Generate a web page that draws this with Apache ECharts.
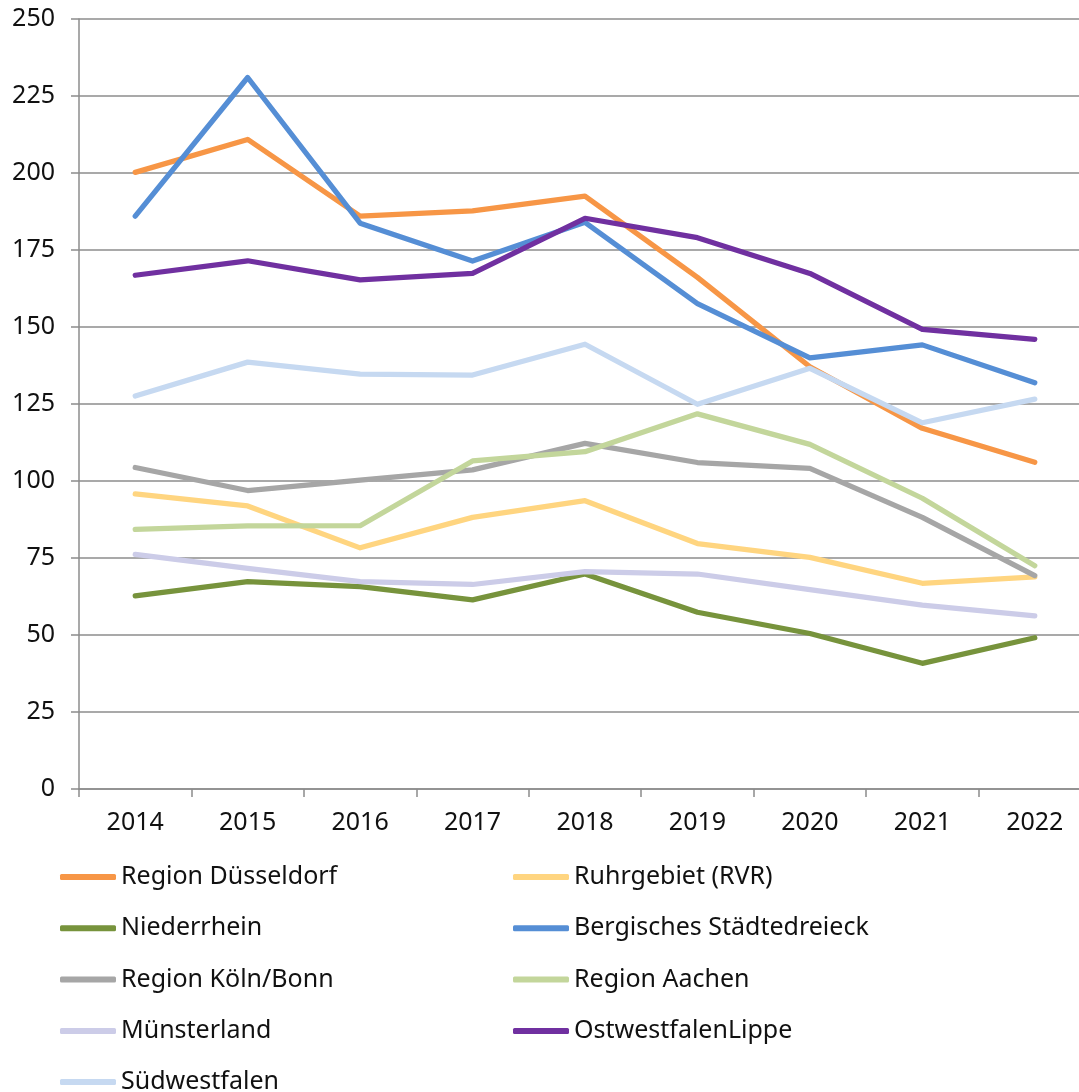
<!DOCTYPE html>
<html>
<head>
<meta charset="utf-8">
<script src="https://cdn.jsdelivr.net/npm/echarts@6/dist/echarts.min.js"></script>
<style>
html,body{margin:0;padding:0;background:#fff;overflow:hidden;width:1079px;height:1092px;}
#chart{width:1092px;height:1092px;}
</style>
</head>
<body>
<div id="chart"></div>
<script>
const years = ['2014','2015','2016','2017','2018','2019','2020','2021','2022'];
const yTicks = [0,25,50,75,100,125,150,175,200,225,250];

const duesseldorf  = [200.2, 210.9, 186.0, 187.7, 192.5, 166.1, 137.1, 117.1, 106.1];
const ruhrgebiet   = [95.8, 91.9, 78.3, 88.2, 93.6, 79.7, 75.2, 66.8, 68.9];
const niederrhein  = [62.7, 67.3, 65.7, 61.4, 69.8, 57.4, 50.5, 40.8, 49.1];
const bergisches   = [186.0, 231.0, 183.7, 171.4, 184.0, 157.6, 140.0, 144.2, 131.9];
const koelnBonn    = [104.4, 96.9, 100.3, 103.6, 112.2, 106.0, 104.1, 88.2, 69.3];
const aachen       = [84.3, 85.4, 85.5, 106.5, 109.5, 121.8, 111.9, 94.4, 72.5];
const muensterland = [76.2, 71.6, 67.3, 66.4, 70.6, 69.8, 64.7, 59.7, 56.2];
const owl          = [166.8, 171.5, 165.3, 167.4, 185.3, 179.0, 167.4, 149.2, 146.0];
const suedwestfalen= [127.6, 138.6, 134.7, 134.4, 144.4, 124.9, 136.6, 118.9, 126.6];

const seriesNames = ['Region Düsseldorf','Ruhrgebiet (RVR)','Niederrhein','Bergisches Städtedreieck','Region Köln/Bonn','Region Aachen','Münsterland','OstwestfalenLippe','Südwestfalen'];
const seriesData = [duesseldorf, ruhrgebiet, niederrhein, bergisches, koelnBonn, aachen, muensterland, owl, suedwestfalen];
const colors = ['#F79646','#FFD580','#77933C','#558ED5','#A6A6A6','#C3D69B','#CCCCE8','#7030A0','#C6D9F1'];

const legendCol1 = ['Region Düsseldorf','Niederrhein','Region Köln/Bonn','Münsterland'];
const legendCol1b = ['Südwestfalen'];
const legendCol2 = ['Ruhrgebiet (RVR)','Bergisches Städtedreieck','Region Aachen','OstwestfalenLippe'];

const FONT = 'Noto Sans';
const gridColor = '#8c8c8c';

const chart = echarts.init(document.getElementById('chart'), null, {renderer:'canvas'});

const legendBase = {
  orient: 'vertical',
  top: 862,
  padding: 0,
  itemWidth: 56,
  itemHeight: 6,
  itemGap: 21.3,
  icon: 'roundRect',
  textStyle: {fontFamily: FONT, fontSize: 25, color: '#111', lineHeight: 30}
};

chart.setOption({
  animation: false,
  color: colors,
  grid: {left: 79, top: 19, width: 1012, height: 770, containLabel: false},
  legend: [
    Object.assign({}, legendBase, {left: 60, data: legendCol1}),
    Object.assign({}, legendBase, {left: 60, top: 1067, data: legendCol1b}),
    Object.assign({}, legendBase, {left: 513, data: legendCol2})
  ],
  xAxis: {
    type: 'category',
    data: years,
    boundaryGap: true,
    axisLine: {lineStyle: {color: gridColor, width: 1.5}},
    axisTick: {show: true, length: 8, alignWithLabel: false, lineStyle: {color: gridColor, width: 1.5}},
    axisLabel: {fontFamily: FONT, fontSize: 25, color: '#111', margin: 21}
  },
  yAxis: {
    type: 'value',
    min: yTicks[0],
    max: yTicks[yTicks.length-1],
    interval: 25,
    axisLine: {show: true, lineStyle: {color: gridColor, width: 1.5}},
    axisTick: {show: true, length: 8, lineStyle: {color: gridColor, width: 1.5}},
    axisLabel: {fontFamily: FONT, fontSize: 25, color: '#111', margin: 24},
    splitLine: {show: true, lineStyle: {color: gridColor, width: 1.5}}
  },
  series: seriesNames.map((n, i) => ({
    name: n,
    type: 'line',
    data: seriesData[i],
    symbol: 'none',
    lineStyle: {width: 5.25, color: colors[i], cap: 'round', join: 'round'},
    itemStyle: {color: colors[i]},
    z: 2 + i
  }))
});
</script>
</body>
</html>
